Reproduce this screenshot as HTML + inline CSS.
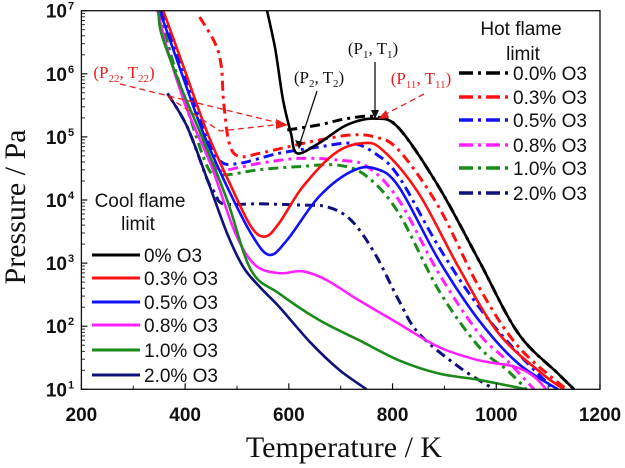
<!DOCTYPE html>
<html><head><meta charset="utf-8"><style>
html,body{margin:0;padding:0;background:#fff;}
svg{display:block;}
.tk{font-family:"Liberation Sans",sans-serif;font-weight:bold;font-size:19px;fill:#111;}
.lg{font-family:"Liberation Sans",sans-serif;font-size:19px;fill:#111;}
.an{font-family:"Liberation Serif",serif;font-size:17px;}
</style></head><body>
<svg id="chart" width="625" height="468" viewBox="0 0 625 468" xmlns="http://www.w3.org/2000/svg">
<g id="marks"></g>
<g id="axes"></g>
<g>
  <text class="an" x="373" y="54" text-anchor="middle" fill="#111">(P<tspan font-size="11" dy="4">1</tspan><tspan dy="-4">, T</tspan><tspan font-size="11" dy="4">1</tspan><tspan dy="-4">)</tspan></text>
  <line x1="375" y1="62" x2="375" y2="114" stroke="#111" stroke-width="1.3"/>
  <polygon points="371,110 379,110 375,119" fill="#111"/>
  <text class="an" x="319" y="83" text-anchor="middle" fill="#111">(P<tspan font-size="11" dy="4">2</tspan><tspan dy="-4">, T</tspan><tspan font-size="11" dy="4">2</tspan><tspan dy="-4">)</tspan></text>
  <line x1="317" y1="91" x2="300" y2="143" stroke="#111" stroke-width="1.3"/>
  <polygon points="295,140 303,142 299,149" fill="#111"/>
  <text class="an" x="124" y="78" text-anchor="middle" fill="#e8201c">(P<tspan font-size="11" dy="4">22</tspan><tspan dy="-4">, T</tspan><tspan font-size="11" dy="4">22</tspan><tspan dy="-4">)</tspan></text>
  <polyline points="120,84 283,124" fill="none" stroke="#e8201c" stroke-width="1.3" stroke-dasharray="6,4"/>
  <polyline points="168,97 220,131 283,124" fill="none" stroke="#e8201c" stroke-width="1.3" stroke-dasharray="6,4"/>
  <polygon points="276,119 288,125 276,129" fill="#e8201c"/>
  <text class="an" x="421" y="84" text-anchor="middle" fill="#e8201c">(P<tspan font-size="11" dy="4">11</tspan><tspan dy="-4">, T</tspan><tspan font-size="11" dy="4">11</tspan><tspan dy="-4">)</tspan></text>
  <line x1="424" y1="94" x2="384" y2="115" stroke="#e8201c" stroke-width="1.3" stroke-dasharray="6,4"/>
  <polygon points="378,119 386,110 389,118" fill="#e8201c"/>
</g>
<g id="legends"></g>
<text x="344" y="457" text-anchor="middle" font-family="Liberation Serif,serif" font-size="30" fill="#111">Temperature / K</text>
<text transform="translate(25,207) rotate(-90)" text-anchor="middle" font-family="Liberation Serif,serif" font-size="30" fill="#111">Pressure / Pa</text>
</svg>
<script>
const NS="http://www.w3.org/2000/svg";
const xTicks=[200,400,600,800,1000,1200];
const yTicks=[1,2,3,4,5,6,7];
const seriesNames=["0% O3","0.3% O3","0.5% O3","0.8% O3","1.0% O3","2.0% O3"];
const hotNames=["0.0% O3","0.3% O3","0.5% O3","0.8% O3","1.0% O3","2.0% O3"];
const colors=["#000000","#ff1010","#1010ff","#ff20ff","#1a8a1a","#10107a"];
// cool flame (solid) : temperature K, log10 pressure
const coolT0=[558,574,589,604,616,658,712,766,812,889,966,1042,1119,1150];
const coolP0=[7.0,6.38,5.58,5.06,4.74,4.90,5.19,5.29,5.14,4.21,3.05,1.89,1.25,1.0];
const coolT1=[358,397,443,489,527,554,581,627,689,743,781,850,927,1004,1088,1131];
const coolP1=[7.0,6.11,5.06,4.21,3.58,3.42,3.63,4.21,4.74,4.90,4.79,4.11,2.94,1.89,1.25,1.0];
const coolT2=[351,389,435,481,527,562,597,658,720,766,812,889,966,1042,1119];
const coolP2=[7.0,6.11,5.06,4.21,3.47,3.13,3.37,4.05,4.45,4.50,4.21,3.05,2.10,1.41,1.0];
const coolT3=[347,366,404,451,497,535,581,627,673,735,812,889,966,1035,1073,1096];
const coolP3=[7.0,6.38,5.43,4.53,3.47,2.97,2.84,2.87,2.73,2.41,2.04,1.67,1.46,1.36,1.2,1.0];
const coolT4=[349,354,389,435,481,527,581,658,735,812,889,966,1058];
const coolP4=[7.0,6.64,5.85,4.95,4.0,2.89,2.52,2.10,1.78,1.46,1.25,1.15,1.0];
const coolT5=[366,404,443,481,512,543,581,643,697,750];
const coolP5=[5.69,5.16,4.32,3.47,2.94,2.63,2.31,1.73,1.31,1.0];
// hot flame (dash-dot)
const hotT0=[597,658,712,766,812,889,966,1042,1119,1150];
const hotP0=[5.11,5.19,5.29,5.32,5.14,4.21,3.05,1.89,1.25,1.0];
const hotT1=[428,458,470,474,485,504,543,597,658,720,766,812,889,966,1042,1135];
const hotP1=[6.9,6.48,6.11,5.58,4.90,4.69,4.74,4.84,4.95,5.03,5.0,4.79,3.89,2.63,1.68,1.0];
const hotT2=[355,389,435,466,504,581,658,720,766,812,889,966,1042,1111];
const hotP2=[7.0,6.22,5.16,4.63,4.58,4.74,4.84,4.90,4.74,4.37,3.26,2.31,1.57,1.0];
const hotT3=[347,404,458,474,543,620,697,751,812,889,966,1020,1073];
const hotP3=[7.0,5.43,4.53,4.47,4.58,4.66,4.63,4.53,4.0,2.84,1.89,1.46,1.0];
const hotT4=[349,389,443,474,543,620,697,751,812,889,966,1020,1058];
const hotP4=[7.0,5.85,4.53,4.40,4.48,4.53,4.55,4.37,3.79,2.57,1.68,1.31,1.0];
const hotT5=[366,404,443,458,474,543,620,674,720,766,812,850,927,996];
const hotP5=[5.69,5.16,4.32,4.11,3.94,3.94,3.92,3.89,3.68,3.15,2.41,1.89,1.36,1.0];

const X0=81.4,X1=600,Y7=10.7,Y1=389.3;
const xs=t=>X0+(t-200)/1000*(X1-X0);
const ys=lp=>Y7+(7-lp)/6*(Y1-Y7);
const svg=document.getElementById('chart');
const marks=document.getElementById('marks');
const axes=document.getElementById('axes');
const legends=document.getElementById('legends');
function mk(tag,attrs,parent){const e=document.createElementNS(NS,tag);for(const k in attrs)e.setAttribute(k,attrs[k]);parent.appendChild(e);return e;}
const clip=mk('clipPath',{id:'pc'},svg);mk('rect',{x:X0,y:Y7,width:X1-X0,height:Y1-Y7},clip);
marks.setAttribute('clip-path','url(#pc)');
const cool=[[coolT0,coolP0],[coolT1,coolP1],[coolT2,coolP2],[coolT3,coolP3],[coolT4,coolP4],[coolT5,coolP5]];
const hot=[[hotT0,hotP0],[hotT1,hotP1],[hotT2,hotP2],[hotT3,hotP3],[hotT4,hotP4],[hotT5,hotP5]];
function pathD(T,P){
  const pts=T.map((t,i)=>[xs(t),ys(P[i])]);
  let d='M'+pts[0][0].toFixed(1)+','+pts[0][1].toFixed(1);
  for(let i=0;i<pts.length-1;i++){
    const p0=pts[Math.max(0,i-1)],p1=pts[i],p2=pts[i+1],p3=pts[Math.min(pts.length-1,i+2)];
    const c1=[p1[0]+(p2[0]-p0[0])/6,p1[1]+(p2[1]-p0[1])/6],c2=[p2[0]-(p3[0]-p1[0])/6,p2[1]-(p3[1]-p1[1])/6];
    d+=' C'+c1.map(v=>v.toFixed(1))+' '+c2.map(v=>v.toFixed(1))+' '+p2.map(v=>v.toFixed(1));
  }
  return d;
}
hot.forEach((s,i)=>{
  const p=mk('path',{d:pathD(s[0],s[1]),fill:'none',stroke:colors[i],'stroke-width':3,'stroke-dasharray':'10,5,3,5'},marks);
  
  
});
cool.forEach((s,i)=>{
  const p=mk('path',{d:pathD(s[0],s[1]),fill:'none',stroke:colors[i],'stroke-width':2.6},marks);
  
  
});
// frame
const fr=mk('rect',{x:X0,y:Y7,width:X1-X0,height:Y1-Y7,fill:'none',stroke:'#111','stroke-width':1.3},axes);


xTicks.forEach(t=>{
  const x=xs(t);
  mk('line',{x1:x,y1:Y1,x2:x,y2:Y1-6,stroke:'#111','stroke-width':1.2},axes);
  const tx=mk('text',{x:x,y:421,'text-anchor':'middle',class:'tk'},axes);
  tx.textContent=t;
  
  
});
for(let t=300;t<1200;t+=200){const x=xs(t);mk('line',{x1:x,y1:Y1,x2:x,y2:Y1-3.5,stroke:'#111','stroke-width':1},axes);}
yTicks.forEach(v=>{
  const y=ys(v);
  mk('line',{x1:X0,y1:y,x2:X0+6,y2:y,stroke:'#111','stroke-width':1.2},axes);
  const tx=mk('text',{x:67,y:y+7,'text-anchor':'end',class:'tk'},axes);
  tx.textContent='10';
  
  
  const sp=mk('text',{x:68,y:y-1,class:'tk','font-size':'11'},axes);
  sp.style.fontSize='11px';
  sp.textContent=v;
  if(v<7){for(let m=2;m<10;m++){const ym=ys(v+Math.log10(m));mk('line',{x1:X0,y1:ym,x2:X0+3.5,y2:ym,stroke:'#111','stroke-width':0.9},axes);}}
});
// legends
function legendText(x,y,s,anchor){const t=mk('text',{x:x,y:y,class:'lg','text-anchor':anchor||'start'},legends);t.textContent=s;return t;}
let t=legendText(140,207,'Cool flame','middle');
t=legendText(138,230,'limit','middle');
t=legendText(521,35,'Hot flame','middle');
t=legendText(523,60,'limit','middle');
const coolRows=[255,278,302,325,350,375],hotRows=[73,97,120,145,168,193];
seriesNames.forEach((n,i)=>{
  const l=mk('line',{x1:92,x2:140,y1:coolRows[i],y2:coolRows[i],stroke:colors[i],'stroke-width':3},legends);
  
  
  const tx=legendText(144,coolRows[i]+7,n);
  
  
});
hotNames.forEach((n,i)=>{
  const l=mk('line',{x1:459,x2:508,y1:hotRows[i],y2:hotRows[i],stroke:colors[i],'stroke-width':3.5,'stroke-dasharray':'14,5,3,5'},legends);
  
  
  const tx=legendText(513,hotRows[i]+7,n);
  
  
});
</script>
</body></html>
